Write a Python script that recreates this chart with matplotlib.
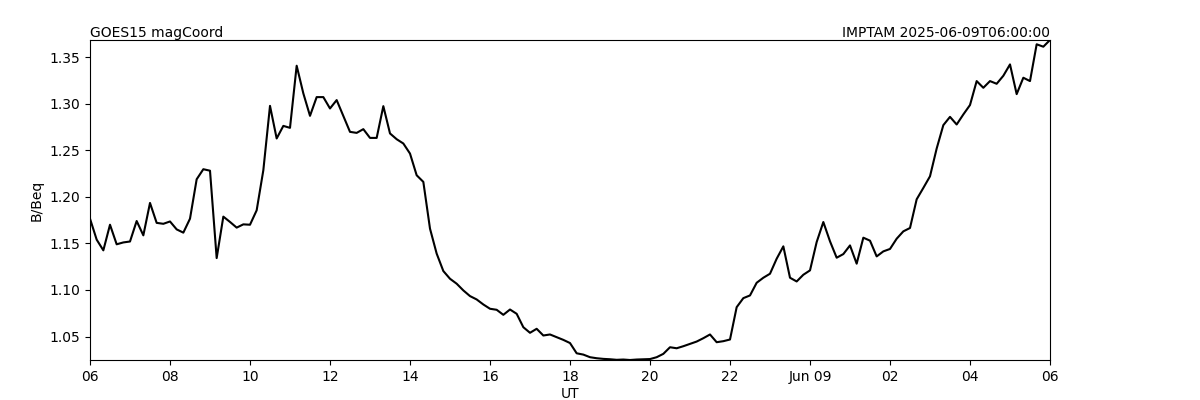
import numpy as np
import pandas as pd
import matplotlib
matplotlib.use("Agg")
import matplotlib.pyplot as plt
import matplotlib.dates as mdates

start_time = "2025-06-08 06:00"
step = "10min"
b_beq = [
    1.1765, 1.154, 1.1425, 1.170, 1.149, 1.151, 1.152, 1.174, 1.1586, 1.1934, 1.172, 1.171,
    1.1735, 1.165, 1.1615, 1.1765, 1.2188, 1.2296, 1.228, 1.1342, 1.1787, 1.173, 1.1669, 1.1704,
    1.170, 1.1855, 1.2285, 1.2976, 1.2626, 1.2761, 1.274, 1.3407, 1.311, 1.2869, 1.307, 1.307,
    1.2948, 1.3038, 1.2869, 1.2697, 1.2686, 1.2726, 1.2632, 1.2632, 1.2973, 1.268, 1.2618, 1.2572,
    1.2464, 1.2231, 1.216, 1.1658, 1.139, 1.1203, 1.112, 1.1067, 1.0995, 1.0934, 1.0898, 1.0844,
    1.0798, 1.0787, 1.0733, 1.079, 1.0744, 1.060, 1.054, 1.0583, 1.0511, 1.0522, 1.0493, 1.0464,
    1.0430, 1.032, 1.0306, 1.0278, 1.0267, 1.026, 1.0256, 1.0250, 1.0253, 1.0248, 1.0253, 1.0256,
    1.0258, 1.0278, 1.0314, 1.0385, 1.0374, 1.0396, 1.0421, 1.0446, 1.0482, 1.0522, 1.0439, 1.045,
    1.0468, 1.0815, 1.0912, 1.0941, 1.1077, 1.1131, 1.1174, 1.1335, 1.1468, 1.1131, 1.1091, 1.1163,
    1.121, 1.1514, 1.1729, 1.1522, 1.1346, 1.1385, 1.1478, 1.1282, 1.1561, 1.1529, 1.136, 1.1414,
    1.1440, 1.155, 1.1629, 1.1665, 1.1973, 1.2095, 1.222, 1.2518, 1.2769, 1.2858, 1.2776, 1.2884,
    1.2985, 1.3242, 1.317, 1.3242, 1.3213, 1.3299, 1.3421, 1.3102, 1.3278, 1.3242, 1.3637, 1.3611,
    1.3683,
]
times = pd.date_range(start_time, periods=len(b_beq), freq=step)

fig = plt.figure(figsize=(12, 4), dpi=100)
ax = fig.add_axes([0.075, 0.1, 0.8, 0.8])
ax.plot(times, b_beq, color="black", linewidth=1.5)

ax.set_xlim(times[0], times[-1])
ax.set_ylim(min(b_beq), max(b_beq))
ax.set_yticks([1.05, 1.10, 1.15, 1.20, 1.25, 1.30, 1.35])

locator = mdates.HourLocator(interval=2)
formatter = mdates.ConciseDateFormatter(
    locator,
    formats=['%Y', '%b', '%d', '%H', '%H', '%S.%f'],
    zero_formats=['', '%Y', '%b', '%b %d', '%H', '%H'],
    offset_formats=['', '', '', '', '', ''],
)
ax.xaxis.set_major_locator(locator)
ax.xaxis.set_major_formatter(formatter)

ax.set_xlabel("UT", labelpad=2)
ax.set_ylabel("B/Beq")
ax.set_title("GOES15 magCoord", loc="left", fontsize=10, pad=2)
ax.set_title("IMPTAM 2025-06-09T06:00:00", loc="right", fontsize=10, pad=2)

fig.savefig("out.png", dpi=100)
